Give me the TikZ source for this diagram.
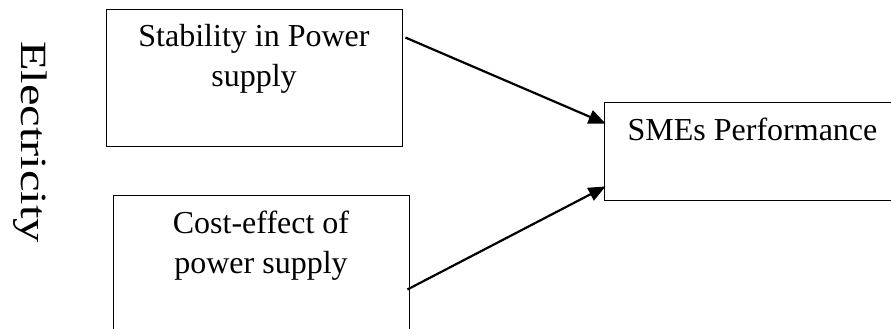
\documentclass[tikz,border=0pt]{standalone}
\usepackage{fontspec}
\setmainfont{Liberation Serif}
\usetikzlibrary{arrows.meta,positioning,calc}

\begin{document}
\begin{tikzpicture}[x=1pt,y=-1pt] % pixel-like units, y grows downwards
\tikzset{box/.style={draw, rectangle, line width=0.9pt, inner sep=0pt}} % plain outlined boxes
\tikzset{boxtext/.style={anchor=north, align=center, font=\fontsize{32}{40}\selectfont, inner sep=0pt}}
\tikzset{link/.style={line width=2.2pt, -{Triangle[length=17pt,width=14pt]}}}
\useasboundingbox (0,0) rectangle (891,329);
\node[rotate=-90, xscale=1.31, font=\fontsize{37}{40}\selectfont] (elec) at (30,142) {Electricity};
\node[box, minimum width=296pt, minimum height=137pt] (stab) at (254,77.5) {};
\node[box, minimum width=296pt, minimum height=134pt] (cost) at (261,262) {};
\node[box, minimum width=287pt, minimum height=98pt] (smes) at (747.5,151) {};
\node[boxtext] (stabtext) at ($(stab.north)+(0,16)$) {Stability in Power\\supply};
\node[boxtext] (costtext) at ($(cost.north)+(0,16)$) {Cost-effect of\\power supply};
\node[boxtext] (smestext) at ($(smes.north)+(5,16)$) {SMEs Performance};
\coordinate (stabout) at ($(stab.north east)+(3,29)$);
\coordinate (costout) at ($(cost.south east)+(-2,-40)$);
\draw[link] (stabout) -- ($(smes.north west)+(2,22)$);
\draw[link] (costout) -- ($(smes.south west)+(2,-14)$);
\end{tikzpicture}
\end{document}
